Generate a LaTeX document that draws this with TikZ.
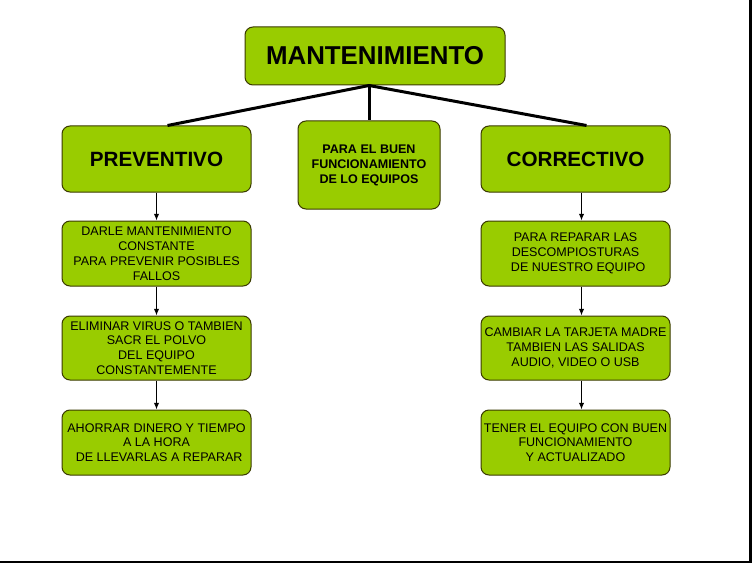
\documentclass[tikz,border=0pt]{standalone}
\usepackage{fontspec}
\setmainfont{Liberation Sans}
\usetikzlibrary{arrows.meta}
\definecolor{boxfill}{HTML}{99CC00}
\definecolor{boxline}{HTML}{3A3A00}
\tikzset{
  gbox/.style={draw=boxline, line width=0.75pt, fill=boxfill, rounded corners=6pt,
    inner sep=0pt, align=center, minimum width=141.75pt, text=black},
  titlebox/.style={gbox, font=\bfseries\fontsize{19.4}{22}\selectfont},
  headbox/.style={gbox, minimum height=49.5pt, font=\bfseries\fontsize{15.5}{18}\selectfont},
  midbox/.style={gbox, minimum width=106.5pt, minimum height=66pt, font=\bfseries\fontsize{9.4}{11.25}\selectfont},
  itembox/.style={gbox, minimum height=48.75pt, font=\fontsize{9.4}{11.1}\selectfont},
  thick line/.style={line width=2.25pt, black},
  arrowline/.style={line width=0.75pt, black, -{Latex[length=5pt,width=4pt]}},
}
\begin{document}
\begin{tikzpicture}[x=0.75pt,y=-0.75pt]
\useasboundingbox (0,0) rectangle (752,563);
\fill[white] (0,0) rectangle (752,563);
% dark frame edges
\fill[black] (748.5,0) rectangle (752,563);
\fill[black] (0,560.5) rectangle (752,563);

\node[titlebox, minimum width=195pt, minimum height=43.5pt] (mant) at (375,56) {MANTENIMIENTO};
\node[headbox] (prev) at (156.5,159) {PREVENTIVO};
\node[midbox] (mid) at (369,165) {PARA EL BUEN\\FUNCIONAMIENTO\\DE LO EQUIPOS};
\node[headbox] (corr) at (575.5,159) {CORRECTIVO};

\node[itembox] (p1) at (156.5,253.5) {DARLE MANTENIMIENTO\\CONSTANTE\\PARA PREVENIR POSIBLES\\FALLOS};
\node[itembox, minimum height=48pt] (p2) at (156.5,348) {ELIMINAR VIRUS O TAMBIEN\\SACR EL POLVO\\DEL EQUIPO\\CONSTANTEMENTE};
\node[itembox] (p3) at (156.5,442.5) {AHORRAR DINERO Y TIEMPO\\A LA HORA\\\hspace*{4pt}DE LLEVARLAS A REPARAR};

\node[itembox] (c1) at (575.5,253.5) {PARA REPARAR LAS\\DESCOMPIOSTURAS\\\hspace*{4pt}DE NUESTRO EQUIPO};
\node[itembox, minimum height=48pt] (c2) at (575.5,348) {CAMBIAR LA TARJETA MADRE\\TAMBIEN LAS SALIDAS\\AUDIO, VIDEO O USB};
\node[itembox] (c3) at (575.5,442.5) {TENER EL EQUIPO CON BUEN\\FUNCIONAMIENTO\\Y ACTUALIZADO};

\coordinate (j) at (mant.south -| mid.north);
\draw[thick line] (j) -- ([xshift=8.25pt]prev.north);
\draw[thick line] (j) -- ([xshift=8.25pt]corr.north);
\draw[thick line] (j) -- (mid.north);

\draw[arrowline] (prev.south) -- (p1.north);
\draw[arrowline] (p1.south) -- (p2.north);
\draw[arrowline] (p2.south) -- (p3.north);
\draw[arrowline] ([xshift=4.5pt]corr.south) -- ([xshift=4.5pt]c1.north);
\draw[arrowline] ([xshift=4.5pt]c1.south) -- ([xshift=4.5pt]c2.north);
\draw[arrowline] ([xshift=4.5pt]c2.south) -- ([xshift=4.5pt]c3.north);
\end{tikzpicture}
\end{document}
